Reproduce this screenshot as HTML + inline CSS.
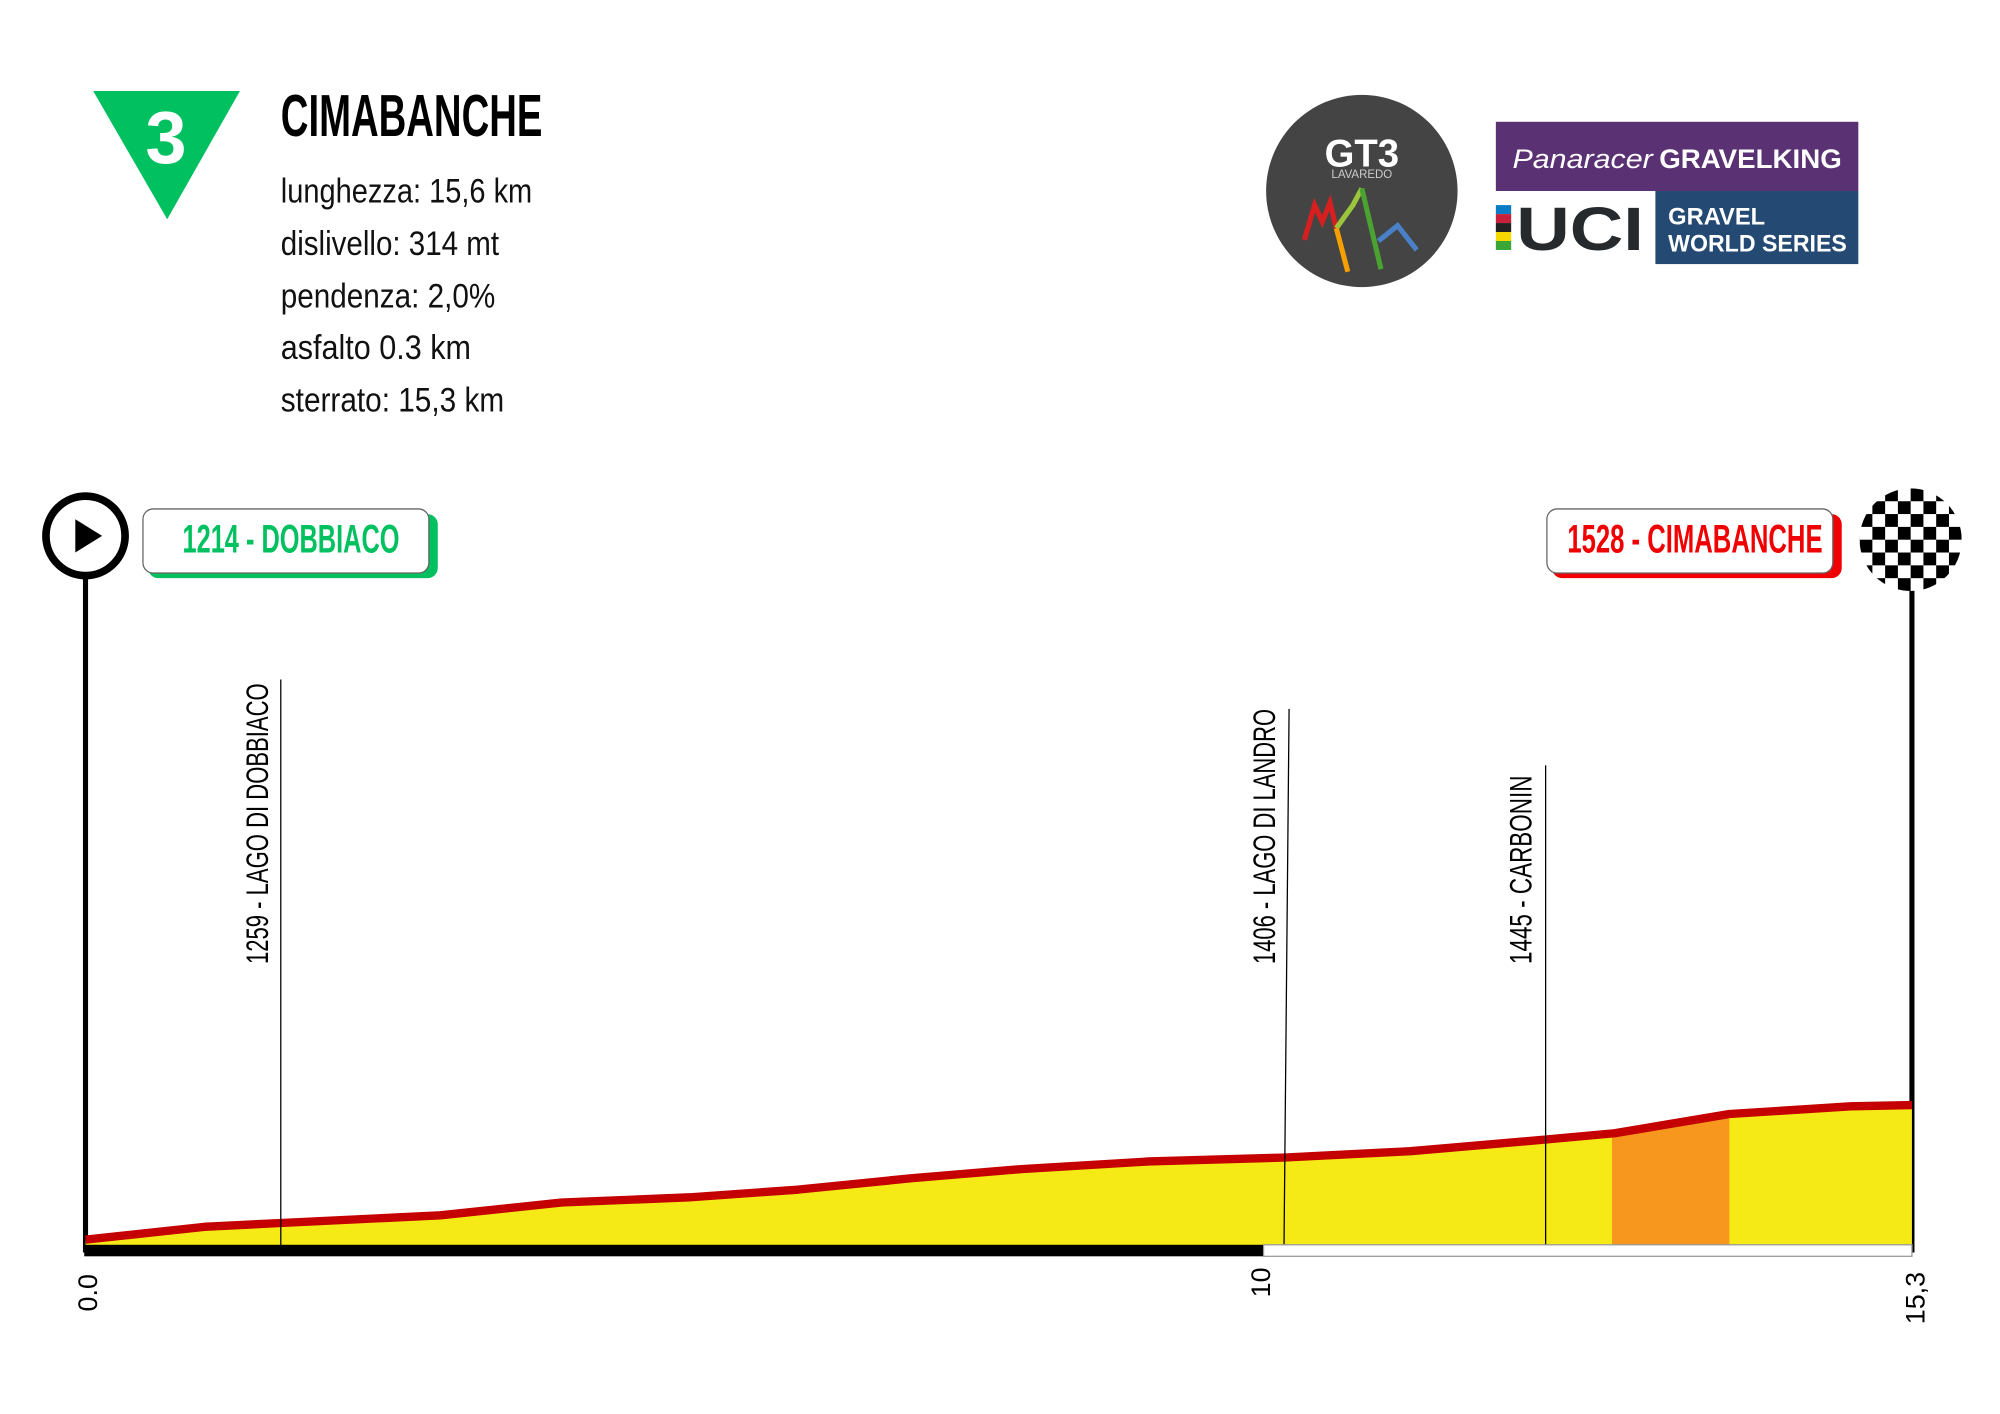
<!DOCTYPE html>
<html><head><meta charset="utf-8"><style>html,body{margin:0;padding:0;background:#fff}svg{display:block}</style></head>
<body>
<svg width="2000" height="1414" viewBox="0 0 1567 1103" preserveAspectRatio="none" xmlns="http://www.w3.org/2000/svg" font-family="'Liberation Sans Narrow','Liberation Sans',sans-serif">
<rect width="1567" height="1103" fill="#fff"/>
<polygon points="73,71 188,71 131,171" fill="#00c060"/>
<text x="130" y="127" font-family="'Liberation Sans',sans-serif" font-weight="bold" font-size="58" fill="#fff" text-anchor="middle">3</text>
<text x="220" y="106" font-weight="bold" font-size="46" textLength="205" lengthAdjust="spacingAndGlyphs">CIMABANCHE</text>
<g font-size="27" fill="#111">
<text x="220" y="158" textLength="197" lengthAdjust="spacingAndGlyphs">lunghezza: 15,6 km</text>
<text x="220" y="199" textLength="171" lengthAdjust="spacingAndGlyphs">dislivello: 314 mt</text>
<text x="220" y="240" textLength="168" lengthAdjust="spacingAndGlyphs">pendenza: 2,0%</text>
<text x="220" y="280" textLength="149" lengthAdjust="spacingAndGlyphs">asfalto 0.3 km</text>
<text x="220" y="321" textLength="175" lengthAdjust="spacingAndGlyphs">sterrato: 15,3 km</text>
</g>
<circle cx="1067" cy="149" r="75" fill="#444"/>
<text x="1067" y="130" font-family="'Liberation Sans',sans-serif" font-weight="bold" font-size="30" fill="#fff" text-anchor="middle">GT3</text>
<text x="1067" y="139" font-family="'Liberation Sans',sans-serif" font-size="9" fill="#ccc" text-anchor="middle">LAVAREDO</text>
<polyline points="1022,187 1030,160 1036,173 1042,158 1047,178" fill="none" stroke="#d62020" stroke-width="4"/>
<polyline points="1047,178 1060,160 1067,147" fill="none" stroke="#9bc53d" stroke-width="4"/>
<polyline points="1047,178 1056,212" fill="none" stroke="#f5a000" stroke-width="4"/>
<polyline points="1067,147 1082,210" fill="none" stroke="#4aa330" stroke-width="4"/>
<polyline points="1080,188 1095,176 1110,195" fill="none" stroke="#4a80c8" stroke-width="4"/>
<rect x="1172" y="95" width="284" height="54" fill="#5a3172"/>
<text x="1185" y="131" font-family="'Liberation Sans',sans-serif" font-style="italic" font-size="21" fill="#fff" textLength="110" lengthAdjust="spacingAndGlyphs">Panaracer</text>
<text x="1300" y="131" font-family="'Liberation Sans',sans-serif" font-weight="bold" font-size="21" fill="#fff" textLength="143" lengthAdjust="spacingAndGlyphs">GRAVELKING</text>
<rect x="1172" y="160" width="12" height="7" fill="#0a7cc4"/>
<rect x="1172" y="167" width="12" height="7" fill="#c8203a"/>
<rect x="1172" y="174" width="12" height="7" fill="#222"/>
<rect x="1172" y="181" width="12" height="7" fill="#f5d800"/>
<rect x="1172" y="188" width="12" height="7" fill="#3aa637"/>
<text x="1188" y="195" font-family="'Liberation Sans',sans-serif" font-weight="bold" font-size="48" fill="#262a2d" textLength="100" lengthAdjust="spacingAndGlyphs">UCI</text>
<rect x="1297" y="149" width="159" height="57" fill="#244a74"/>
<text x="1307" y="175" font-family="'Liberation Sans',sans-serif" font-weight="bold" font-size="19" fill="#fff" textLength="76" lengthAdjust="spacingAndGlyphs">GRAVEL</text>
<text x="1307" y="196" font-family="'Liberation Sans',sans-serif" font-weight="bold" font-size="19" fill="#fff" textLength="140" lengthAdjust="spacingAndGlyphs">WORLD SERIES</text>
<line x1="67" y1="450" x2="67" y2="977" stroke="#000" stroke-width="4"/>
<circle cx="67" cy="418" r="31" fill="#fff" stroke="#000" stroke-width="6"/>
<polygon points="59,405 59,431 80,418" fill="#000"/>
<rect x="116" y="401" width="227" height="50" rx="8" fill="#00c060"/>
<rect x="112" y="397" width="224" height="50" rx="8" fill="#fff" stroke="#666" stroke-width="1"/>
<text x="143" y="431" font-weight="bold" font-size="31" fill="#00c060" textLength="170" lengthAdjust="spacingAndGlyphs">1214 - DOBBIACO</text>
<line x1="1498" y1="455" x2="1498" y2="977" stroke="#000" stroke-width="4"/>
<rect x="1216" y="401" width="227" height="50" rx="8" fill="#f00000"/>
<rect x="1212" y="397" width="224" height="50" rx="8" fill="#fff" stroke="#666" stroke-width="1"/>
<text x="1228" y="431" font-weight="bold" font-size="31" fill="#f00000" textLength="200" lengthAdjust="spacingAndGlyphs">1528 - CIMABANCHE</text>
<defs>
<clipPath id="cf"><circle cx="1497" cy="421" r="40"/></clipPath>
<pattern id="chk" x="1457" y="381" width="20" height="20" patternUnits="userSpaceOnUse">
<rect width="20" height="20" fill="#fff"/><rect width="10" height="10" fill="#000"/><rect x="10" y="10" width="10" height="10" fill="#000"/>
</pattern>
</defs>
<rect x="1457" y="381" width="80" height="80" fill="url(#chk)" clip-path="url(#cf)"/>
<polygon points="67,974 67,966 160,957 220,954 345,948 440,938 540,934 625,928 715,919 800,912 900,906 1005,903 1105,898 1210,889 1265,884 1355,869 1450,863 1498,862 1498,974" fill="#f5e916"/>
<polygon points="1263,974 1263,885 1265,884 1355,869 1355,974" fill="#f7971e"/>
<polyline points="67,967 160,957 220,954 345,948 440,938 540,934 625,928 715,919 800,912 900,906 1005,903 1105,898 1210,889 1265,884 1355,869 1450,863 1498,862" fill="none" stroke="#c40000" stroke-width="6.5" stroke-linejoin="round"/>
<line x1="220" y1="530" x2="220" y2="974" stroke="#000" stroke-width="1"/>
<text transform="translate(210,752) rotate(-90)" font-size="25" textLength="219" lengthAdjust="spacingAndGlyphs">1259 - LAGO DI DOBBIACO</text>
<line x1="1010" y1="553" x2="1006" y2="974" stroke="#000" stroke-width="1"/>
<text transform="translate(999,752) rotate(-90)" font-size="25" textLength="199" lengthAdjust="spacingAndGlyphs">1406 - LAGO DI LANDRO</text>
<line x1="1211" y1="597" x2="1211" y2="972" stroke="#000" stroke-width="1"/>
<text transform="translate(1200,752) rotate(-90)" font-size="25" textLength="147" lengthAdjust="spacingAndGlyphs">1445 - CARBONIN</text>
<rect x="66" y="971" width="924" height="9" fill="#000"/>
<rect x="990" y="971" width="508" height="9" fill="#fff" stroke="#999" stroke-width="1"/>
<g font-family="'Liberation Sans',sans-serif" font-size="21" fill="#000">
<text transform="translate(76,1023) rotate(-90)">0.0</text>
<text transform="translate(995,1012) rotate(-90)">10</text>
<text transform="translate(1508,1033) rotate(-90)">15,3</text>
</g>
</svg>
</body></html>
